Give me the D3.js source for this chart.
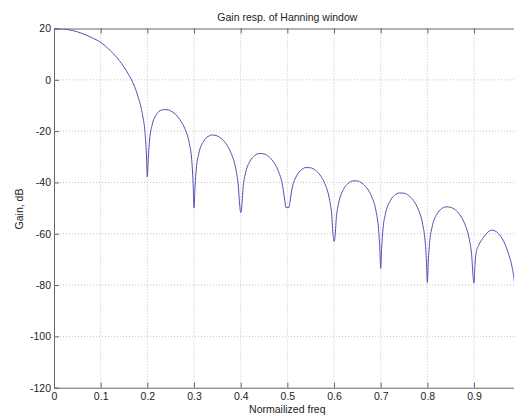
<!DOCTYPE html>
<html>
<head>
<meta charset="utf-8">
<script src="https://cdn.jsdelivr.net/npm/d3@7"></script>
<style>
  body { margin: 0; background: #fff; }
  svg { display: block; font-family: "Liberation Sans", Arial, Helvetica, sans-serif; }
  .axis path, .axis line { stroke: #666; }
  .axis text { fill: #222; font-size: 10.5px; }
  .grid line { stroke: #c4c4c4; stroke-dasharray: 1,2; }
</style>
</head>
<body>
<div id="chart"></div>
<script>
// tick values
const xTicks = [0, 0.1, 0.2, 0.3, 0.4, 0.5, 0.6, 0.7, 0.8, 0.9];
const yTicks = [20, 0, -20, -40, -60, -80, -100, -120];

// normalized frequency and gain (dB)
const freq = [
    0, 0.02, 0.04, 0.06, 0.08, 0.1, 0.12, 0.14, 0.15, 0.16, 0.17, 0.18, 0.19, 0.195, 0.198,
    0.2, 0.202, 0.205, 0.21, 0.22, 0.23, 0.24, 0.25, 0.26, 0.27, 0.28, 0.29, 0.295, 0.298,
    0.3, 0.302, 0.305, 0.31, 0.32, 0.33, 0.34, 0.35, 0.36, 0.37, 0.38, 0.39, 0.395, 0.398,
    0.4, 0.402, 0.405, 0.41, 0.42, 0.43, 0.44, 0.45, 0.46, 0.47, 0.48, 0.49, 0.495,
    0.4965, 0.5035, 0.505, 0.51, 0.52, 0.53, 0.54, 0.55, 0.56, 0.57, 0.58, 0.59, 0.595, 0.598,
    0.6, 0.602, 0.605, 0.61, 0.62, 0.63, 0.64, 0.65, 0.66, 0.67, 0.68, 0.69, 0.695, 0.698,
    0.7, 0.702, 0.705, 0.71, 0.72, 0.73, 0.74, 0.75, 0.76, 0.77, 0.78, 0.79, 0.795, 0.798,
    0.8, 0.802, 0.805, 0.81, 0.82, 0.83, 0.84, 0.85, 0.86, 0.87, 0.88, 0.89, 0.895, 0.898,
    0.9, 0.902, 0.905, 0.91, 0.92, 0.93, 0.938, 0.945, 0.955, 0.965, 0.97, 0.975, 0.981, 0.986, 0.99
];
const gainDb = [
    20, 19.8, 19.2, 18.1, 16.5, 14.6, 11.5, 7.5, 5, 2, -1.5, -6.5, -14, -20.5, -29,
    -37.8, -30.7, -23.1, -17.8, -13.4, -11.8, -11.6, -12.1, -13.4, -15.6, -18.9, -24.8, -31, -40,
    -49.9, -42.1, -34.4, -28.9, -24.1, -22.1, -21.5, -21.9, -23.1, -25.3, -28.8, -35.2, -41.5, -49,
    -51.8, -50.1, -42.3, -36.7, -31.7, -29.5, -28.7, -28.9, -29.9, -31.9, -35.3, -41.5, -47.7,
    -49.7, -49.7, -48.2, -42.5, -37.4, -35.1, -34.2, -34.3, -35.2, -37.1, -40.3, -46.4, -52.5, -60.6,
    -63, -61.5, -53.7, -48, -42.8, -40.4, -39.4, -39.4, -40.3, -42.1, -45.2, -51.2, -57.3, -65.4,
    -73.5, -65.8, -58, -52.4, -47.3, -45, -44.1, -44.2, -45.1, -47, -50.3, -56.4, -62.5, -70.6,
    -79, -70.9, -63.1, -57.5, -52.5, -50.3, -49.5, -49.7, -50.7, -52.7, -56.1, -62.3, -68.5, -76.6,
    -79.2, -72, -67, -64.5, -61.5, -59.3, -58.6, -58.9, -60.5, -63.5, -65.8, -68.5, -72.5, -78, -86
];

var width = 514, height = 418;
var margin = { top: 28.5, right: -6.7, bottom: 30.3, left: 54 };

var svg = d3.select("#chart").append("svg")
    .attr("width", width)
    .attr("height", height);

svg.append("rect").attr("width", width).attr("height", height).attr("fill", "#fff");

const xScale = d3.scaleLinear().domain([0, 1]).range([margin.left, width - margin.right]);
const yScale = d3.scaleLinear().domain([-120, 20]).range([height - margin.bottom, margin.top]);

// dotted grid
const grid = svg.append("g").attr("class", "grid");
grid.selectAll(".vg").data(xTicks.filter(d => d > 0)).join("line")
    .attr("x1", d => xScale(d)).attr("x2", d => xScale(d))
    .attr("y1", yScale(20)).attr("y2", yScale(-120));
grid.selectAll(".hg").data(yTicks.filter(d => d > -120 && d < 20)).join("line")
    .attr("x1", xScale(0)).attr("x2", xScale(1))
    .attr("y1", d => yScale(d)).attr("y2", d => yScale(d));

// axes, ticks pointing inward
svg.append("g").attr("class", "axis")
    .attr("transform", `translate(0,${yScale(-120)})`)
    .call(d3.axisBottom(xScale).tickValues(xTicks).tickFormat(d => d).tickSize(-5).tickSizeOuter(0).tickPadding(5));
svg.append("g").attr("class", "axis")
    .attr("transform", `translate(0,${yScale(20)})`)
    .call(d3.axisTop(xScale).tickValues(xTicks).tickFormat("").tickSize(-5).tickSizeOuter(0));
svg.append("g").attr("class", "axis")
    .attr("transform", `translate(${xScale(0)},0)`)
    .call(d3.axisLeft(yScale).tickValues(yTicks).tickFormat(d => d).tickSize(-5).tickSizeOuter(0).tickPadding(3));

// gain curve
const points = freq.map((f, i) => [f, gainDb[i]]);
const line = d3.line()
    .x(d => xScale(d[0]))
    .y(d => yScale(d[1]))
    .curve(d3.curveMonotoneX);

svg.append("clipPath").attr("id", "plotClip")
    .append("rect")
    .attr("x", xScale(0)).attr("y", yScale(20))
    .attr("width", xScale(1) - xScale(0)).attr("height", yScale(-120) - yScale(20));

svg.append("path")
    .datum(points)
    .attr("clip-path", "url(#plotClip)")
    .attr("fill", "none")
    .attr("stroke", "#5050b4")
    .attr("stroke-width", 1)
    .attr("d", line);

// labels
svg.append("text")
    .attr("x", (xScale(0) + xScale(1)) / 2).attr("y", 21)
    .attr("text-anchor", "middle")
    .style("font-size", "10.5px").style("fill", "#222")
    .text("Gain resp. of Hanning window");

svg.append("text")
    .attr("x", (xScale(0) + xScale(1)) / 2).attr("y", 413)
    .attr("text-anchor", "middle")
    .style("font-size", "10.5px").style("fill", "#222")
    .text("Normailized freq");

svg.append("text")
    .attr("transform", "translate(22.5,209) rotate(-90)")
    .attr("text-anchor", "middle")
    .style("font-size", "10.5px").style("fill", "#222")
    .text("Gain, dB");
</script>
</body>
</html>
